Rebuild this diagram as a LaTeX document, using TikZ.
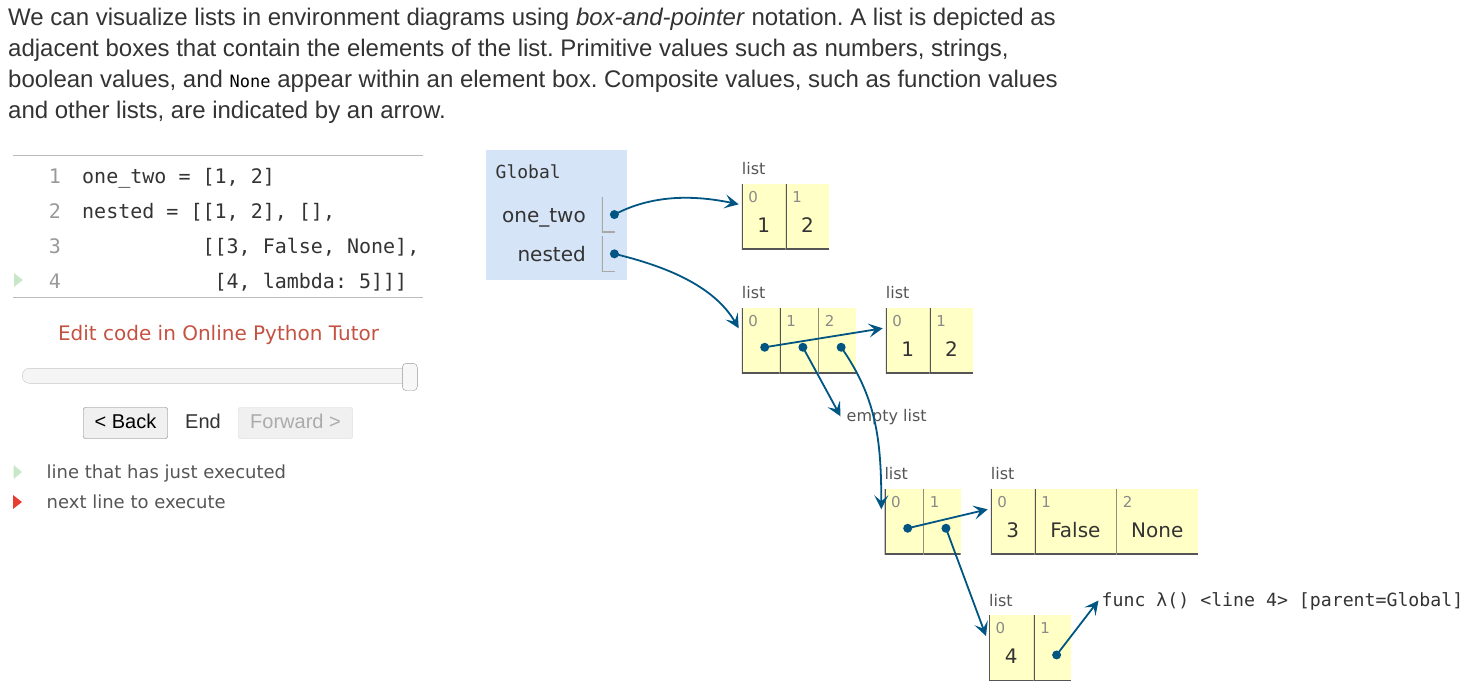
\documentclass[tikz,border=0pt]{standalone}
\usepackage{fontspec}
\setmainfont{Liberation Sans}
\newfontfamily\uifont{DejaVu Sans}
\newfontfamily\codefont{DejaVu Sans Mono}
\usetikzlibrary{calc,positioning,arrows.meta}
\frenchspacing

\definecolor{bodytext}{HTML}{333333}
\definecolor{uigrey}{HTML}{555555}
\definecolor{framebg}{RGB}{214,228,248}
\definecolor{listbg}{HTML}{FFFFC6}
\definecolor{listline}{HTML}{555555}
\definecolor{varline}{HTML}{A8A8A8}
\definecolor{ptrblue}{HTML}{005583}
\definecolor{idxgrey}{HTML}{8A8A8A}
\definecolor{linenum}{HTML}{999999}
\definecolor{editred}{RGB}{196,82,66}
\definecolor{rulegrey}{HTML}{BBBBBB}
\definecolor{justgreen}{RGB}{200,230,200}
\definecolor{nextred}{RGB}{232,62,50}

\tikzset{
  para/.style={anchor=base west, inner sep=0pt, text=bodytext,
    font=\fontsize{24}{31}\selectfont},
  code/.style={anchor=base west, inner sep=0pt, text=bodytext,
    font=\codefont\fontsize{20}{24}\selectfont},
  lineno/.style={code, anchor=base east, text=linenum},
  ui/.style={anchor=base west, inner sep=0pt, text=uigrey,
    font=\uifont\fontsize{18}{22}\selectfont},
  btn/.style={draw=#1, inner sep=0pt, rounded corners=2pt, minimum height=31pt,
    text height=21pt, text depth=10pt, anchor=north west,
    font=\fontsize{20}{24}\selectfont},
  globframe/.style={fill=framebg, inner sep=0pt, anchor=north west},
  varname/.style={anchor=base east, inner sep=0pt, text=bodytext,
    font=\uifont\fontsize{20}{24}\selectfont},
  varbox/.style={inner sep=0pt, anchor=north west, minimum width=13.3pt,
    minimum height=35.3pt,
    path picture={\draw[varline, line width=2pt] (path picture bounding box.north west)
      |- (path picture bounding box.south east);}},
  cell/.style={fill=listbg, inner sep=0pt, minimum width=#1, minimum height=65.5pt,
    text height=48.5pt, text depth=17pt, text=bodytext,
    font=\uifont\fontsize{20}{24}\selectfont,
    path picture={\draw[listline, line width=2pt] (path picture bounding box.north west)
      |- (path picture bounding box.south east);}},
  cell/.default=43.6pt,
  idx/.style={anchor=north west, inner xsep=6.5pt, inner ysep=7.5pt, text=idxgrey,
    text height=11pt, text depth=0pt, font=\uifont\fontsize{15}{18}\selectfont},
  typelbl/.style={inner sep=0pt, text=uigrey, font=\uifont\fontsize{16}{20}\selectfont},
  ptr/.style={circle, fill=ptrblue, inner sep=0pt, minimum size=9pt},
  link/.style={draw=ptrblue, line width=1.8pt,
    -{Stealth[length=14pt, width=14pt, inset=6pt]}},
}

\begin{document}
\begin{tikzpicture}[x=1pt, y=-1pt]
\useasboundingbox (0,0) rectangle (1465,696);

% intro text
\node[para] (p1) at (8,25) {We can visualize lists in environment diagrams using \textit{box-and-pointer} notation. A list is depicted as};
\node[para] (p2) at (8,56) {adjacent boxes that contain the elements of the list. Primitive values such as numbers, strings,};
\node[para] (p3) at (8,87) {boolean values, and {\codefont\fontsize{17}{20}\selectfont\color{black}None} appear within an element box. Composite values, such as function values};
\node[para] (p4) at (8,118) {and other lists, are indicated by an arrow.};

% code panel
\draw[rulegrey] (13,155) -- (423,155);
\draw[rulegrey] (13,297.3) -- (423,297.3);
\node[lineno] (n1) at (61,183.3) {1};
\node[lineno] (n2) at (61,218.3) {2};
\node[lineno] (n3) at (61,253.3) {3};
\node[lineno] (n4) at (61,288) {4};
\node[code] (c1) at (82,183.3) {one\_two = [1, 2]};
\node[code] (c2) at (82,218.3) {nested = [[1, 2], [],};
\node[code] (c3) at (202.4,253.3) {[[3, False, None],};
\node[code] (c4) at (214.4,288) {[4, lambda: 5]]]};
\fill[justgreen] (14,273) -- (22.7,280) -- (14,287) -- cycle;

% controls
\node[anchor=base, inner sep=0pt, text=editred, font=\uifont\fontsize{20}{24}\selectfont]
  (edit) at (218.5,340) {Edit code in Online Python Tutor};
\draw[draw=black!22, fill=black!4, rounded corners=7pt] (22.3,368.3) rectangle (416.7,383.3);
\draw[draw=black!40, fill=black!3, rounded corners=4pt] (402.3,363.3) rectangle (417.3,390.7);
\node[btn=black!55, fill=black!6, text=black, minimum width=84pt] (back) at (83.3,407.3) {< Back};
\node[anchor=base, inner sep=0pt, text=bodytext, font=\fontsize{20}{24}\selectfont]
  (endlbl) at (203,428.3) {End};
\node[btn=black!18, fill=black!6, text=black!33, minimum width=114pt] (fwd) at (238.3,407.3) {Forward >};

% legend
\fill[justgreen] (13.5,465) -- (22,472) -- (13.5,479) -- cycle;
\fill[nextred] (13,495) -- (22,502) -- (13,509) -- cycle;
\node[ui] (lg1) at (46.5,478.3) {line that has just executed};
\node[ui] (lg2) at (46.5,508.3) {next line to execute};

% global frame
\node[globframe, minimum width=140.7pt, minimum height=130pt] (glob) at (486,150) {};
\node[code, font=\codefont\fontsize{18}{22}\selectfont] (globname) at (495.5,178.3) {Global};
\node[varname] (vn1) at (586,222) {one\_two};
\node[varname] (vn2) at (586,261.7) {nested};
\node[varbox] (v1) at (601.7,196.7) {};
\node[varbox] (v2) at (601.7,236) {};
\node[ptr] (pv1) at ($(v1.east)+(-1,0)$) {};
\node[ptr] (pv2) at ($(v2.east)+(-1,0)$) {};

% one_two = [1, 2]
\node[cell, anchor=north west, label={[idx]north west:0}] (A0) at (741.7,183.3) {1};
\node[cell=43pt, right=0pt of A0, label={[idx]north west:1}] (A1) {2};
\node[typelbl, above right=8pt and 0pt of A0.north west] (tA) {list};

% nested
\node[cell=37.6pt, anchor=north west, label={[idx]north west:0}] (B0) at (741.7,307.3) {};
\node[cell=38pt, right=0pt of B0, label={[idx]north west:1}] (B1) {};
\node[cell=37.7pt, right=0pt of B1, label={[idx]north west:2}] (B2) {};
\node[typelbl, above right=8pt and 0pt of B0.north west] (tB) {list};

% nested[0] = [1, 2]
\node[cell, anchor=north west, label={[idx]north west:0}] (C0) at (885.7,307.3) {1};
\node[cell=43.4pt, right=0pt of C0, label={[idx]north west:1}] (C1) {2};
\node[typelbl, above right=8pt and 0pt of C0.north west] (tC) {list};

% nested[1] = []
\node[anchor=base west, inner sep=0pt, text=uigrey, font=\uifont\fontsize{16}{20}\selectfont]
  (el) at (846.5,421.7) {empty list};

% nested[2]
\node[cell=38.4pt, anchor=north west, label={[idx]north west:0}] (D0) at (884.3,488.3) {};
\node[cell=37.3pt, right=0pt of D0, label={[idx]north west:1}] (D1) {};
\node[typelbl, above right=8pt and 0pt of D0.north west] (tD) {list};

% [3, False, None]
\node[cell, anchor=north west, label={[idx]north west:0}] (E0) at (990.7,488.3) {3};
\node[cell=81pt, right=0pt of E0, label={[idx]north west:1}] (E1) {False};
\node[cell=82pt, right=0pt of E1, label={[idx]north west:2}] (E2) {None};
\node[typelbl, above right=8pt and 0pt of E0.north west] (tE) {list};

% [4, lambda: 5]
\node[cell=44.3pt, anchor=north west, label={[idx]north west:0}] (F0) at (989,615) {4};
\node[cell=37.4pt, right=0pt of F0, label={[idx]north west:1}] (F1) {};
\node[typelbl, above right=8pt and 0pt of F0.north west] (tF) {list};

% function value
\node[code, font=\codefont\fontsize{18.2}{22}\selectfont] (fn) at (1101.5,606.5)
  {func λ() <line 4> [parent=Global]};

% pointers
\node[ptr] (pB0) at ($(B0.center)+(4,7)$) {};
\node[ptr] (pB1) at ($(B1.center)+(4,7)$) {};
\node[ptr] (pB2) at ($(B2.center)+(4,7)$) {};
\node[ptr] (pD0) at ($(D0.center)+(4,7)$) {};
\node[ptr] (pD1) at ($(D1.center)+(4,7)$) {};
\node[ptr] (pF1) at ($(F1.center)+(4,7)$) {};

\draw[link] (pv1.center) .. controls +(36,-19) and +(-48,-10) .. ($(A0.north west)+(-3,21)$);
\draw[link] (pv2.center) .. controls +(50,12) and +(-25,-43) .. ($(B0.north west)+(-3,21)$);
\draw[link] (pB0.center) -- ($(C0.north west)+(-3,21)$);
\draw[link] (pB1.center) -- ($(el.west)+(-6,-1)$);
\draw[link] (pB2.center) .. controls +(35,50) and +(0,-70) .. ($(D0.north west)+(-3,21)$);
\draw[link] (pD0.center) -- ($(E0.north west)+(-3,21)$);
\draw[link] (pD1.center) -- ($(F0.north west)+(-3,21)$);
\draw[link] (pF1.center) -- ($(fn.base west)+(-3,-6)$);

\end{tikzpicture}
\end{document}
